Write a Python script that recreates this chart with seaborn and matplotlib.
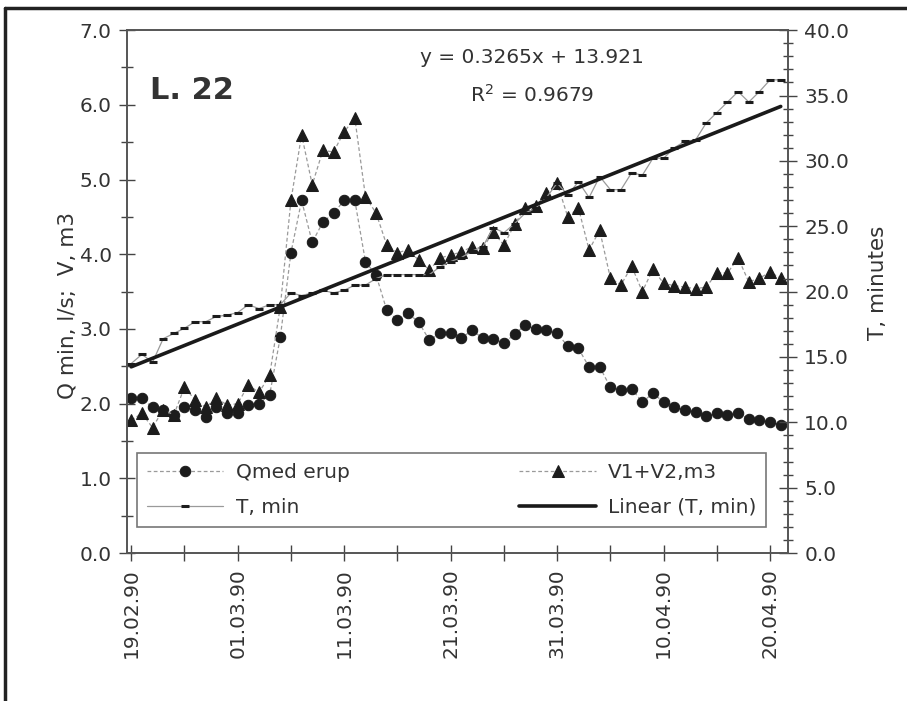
import numpy as np
import pandas as pd
import matplotlib
matplotlib.use("Agg")
import matplotlib.pyplot as plt
from matplotlib.lines import Line2D
from matplotlib.ticker import MultipleLocator, FormatStrFormatter
import seaborn as sns

# ==============================================
# Data: daily observations, well L. 22, 19.02.90 - 21.04.90
# ==============================================
dates = pd.date_range("1990-02-19", periods=62, freq="D")

# Qmed erup, l/s (left axis)
q_med = [2.07, 2.07, 1.95, 1.92, 1.85, 1.95, 1.92, 1.82, 1.95, 1.88,
         1.88, 1.98, 2.00, 2.12, 2.89, 4.02, 4.72, 4.16, 4.43, 4.55,
         4.72, 4.72, 3.90, 3.72, 3.25, 3.12, 3.21, 3.09, 2.85, 2.94,
         2.95, 2.88, 2.98, 2.88, 2.87, 2.81, 2.93, 3.05, 3.00, 2.99,
         2.94, 2.77, 2.74, 2.49, 2.49, 2.22, 2.18, 2.20, 2.02, 2.14,
         2.02, 1.96, 1.91, 1.89, 1.83, 1.87, 1.85, 1.87, 1.80, 1.78,
         1.75, 1.72]

# V1+V2, m3 (left axis)
v_sum = [1.78, 1.87, 1.68, 1.92, 1.85, 2.22, 2.05, 1.95, 2.08, 1.98,
         2.00, 2.25, 2.15, 2.38, 3.30, 4.72, 5.60, 4.93, 5.39, 5.37,
         5.64, 5.82, 4.77, 4.55, 4.12, 4.02, 4.06, 3.92, 3.79, 3.95,
         3.99, 4.03, 4.10, 4.08, 4.30, 4.12, 4.40, 4.62, 4.64, 4.82,
         4.95, 4.50, 4.62, 4.06, 4.32, 3.68, 3.59, 3.84, 3.50, 3.80,
         3.61, 3.58, 3.56, 3.54, 3.56, 3.75, 3.75, 3.95, 3.63, 3.68,
         3.76, 3.68]

# T, min (right axis)
t_min = [14.5, 15.2, 14.6, 16.4, 16.8, 17.2, 17.7, 17.7, 18.1, 18.2,
         18.4, 19.0, 18.7, 19.0, 19.0, 19.9, 19.7, 19.9, 20.1, 19.9,
         20.1, 20.5, 20.5, 21.0, 21.3, 21.3, 21.3, 21.3, 21.3, 21.9,
         22.3, 22.6, 23.1, 23.4, 24.9, 24.5, 25.2, 26.0, 26.4, 27.2,
         28.3, 27.4, 28.4, 27.2, 28.8, 27.8, 27.8, 29.1, 28.9, 30.2,
         30.2, 31.0, 31.5, 31.6, 32.9, 33.7, 34.5, 35.3, 34.5, 35.3,
         36.2, 36.2]

# Excel linear trendline of T (x = point number 1..n)
trend_slope = 0.3265
trend_intercept = 13.921
trend_r2 = 0.9679

series_names = ["Qmed erup", "V1+V2,m3", "T, min", "Linear (T, min)"]

# ==============================================
# Plot
# ==============================================
sns.set_theme(style="white")
plt.rcParams["font.family"] = ["DejaVu Sans"]
plt.rcParams["text.color"] = "#333333"
plt.rcParams["xtick.color"] = "#444444"
plt.rcParams["ytick.color"] = "#444444"
plt.rcParams["xtick.labelcolor"] = "#333333"
plt.rcParams["ytick.labelcolor"] = "#333333"

day = (dates - dates[0]).days.to_numpy()
point_no = np.arange(1, len(t_min) + 1)
t_trend = trend_slope * point_no + trend_intercept

fig = plt.figure(figsize=(9.07, 7.01), dpi=100)
ax = fig.add_axes([0.140, 0.211, 0.729, 0.746])
ax2 = ax.twinx()

link_style = dict(color="#9a9a9a", lw=0.9, linestyle=(0, (3, 2)))
dark = "#1c1c1c"

sns.lineplot(x=day, y=q_med, ax=ax, marker="o", markersize=7.5,
             markerfacecolor=dark, markeredgecolor=dark, legend=False, **link_style)
sns.lineplot(x=day, y=v_sum, ax=ax, marker="^", markersize=8.5,
             markerfacecolor=dark, markeredgecolor=dark, legend=False, **link_style)
sns.lineplot(x=day, y=t_min, ax=ax2, marker="_", markersize=6, markeredgewidth=2.2,
             markerfacecolor=dark, markeredgecolor=dark, legend=False,
             color="#9a9a9a", lw=0.9)
sns.lineplot(x=day, y=t_trend, ax=ax2, color="#1a1a1a", lw=2.6, legend=False)

# axes limits and ticks
ax.set_xlim(-0.4, 61.7)
ax.set_ylim(0, 7)
ax2.set_ylim(0, 40)

ax.set_xticks(day[::10])
ax.set_xticklabels(dates[::10].strftime("%d.%m.%y"), rotation=90)
ax.set_xticks(day[::5], minor=True)
ax.yaxis.set_major_locator(MultipleLocator(1))
ax.yaxis.set_minor_locator(MultipleLocator(0.5))
ax.yaxis.set_major_formatter(FormatStrFormatter("%.1f"))
ax2.yaxis.set_major_locator(MultipleLocator(5))
ax2.yaxis.set_minor_locator(MultipleLocator(1))
ax2.yaxis.set_major_formatter(FormatStrFormatter("%.1f"))

ax.tick_params(axis="x", which="both", direction="inout", length=12, width=1,
               pad=5, labelsize=14.5, bottom=True)
ax.tick_params(axis="y", which="major", direction="inout", length=12, width=1,
               pad=5, labelsize=14.5, left=True)
ax.tick_params(axis="y", which="minor", direction="inout", length=8, width=1, left=True)
ax2.tick_params(axis="y", which="major", direction="inout", length=13, width=1,
                pad=5, labelsize=14.5, right=True)
ax2.tick_params(axis="y", which="minor", direction="inout", length=7, width=1, right=True)

for a in (ax, ax2):
    for sp in a.spines.values():
        sp.set_color("#555555")
        sp.set_linewidth(1.2)

ax.set_xlabel("")
ax.set_ylabel("Q min, l/s;  V, m3", fontsize=15.5, color="#333333")
ax.yaxis.set_label_coords(-0.075, 0.474)
ax2.set_ylabel("T, minutes", fontsize=15.5, color="#333333")
ax2.yaxis.set_label_coords(1.121, 0.516)

# annotations
ax.text(0.035, 0.885, "L. 22", transform=ax.transAxes, fontsize=22,
        fontweight="bold", color="#333333", ha="left", va="center")
ax.text(0.613, 0.948, f"y = {trend_slope}x + {trend_intercept}",
        transform=ax.transAxes, fontsize=14.5, ha="center", va="center")
ax.text(0.613, 0.876, f"R$^2$ = {trend_r2}", transform=ax.transAxes,
        fontsize=14.5, ha="center", va="center")

# legend: two columns, row-wise order as in the original
h = ax.get_lines()[:2] + ax2.get_lines()[:2]
handles = [h[0], h[2], h[1], h[3]]
labels = [series_names[0], series_names[2], series_names[1], series_names[3]]
leg = ax2.legend(handles, labels, ncol=2, loc="lower left",
                 bbox_to_anchor=(0.015, 0.05, 0.952, 0.16), mode="expand",
                 borderaxespad=0, frameon=True, fancybox=False, fontsize=14.5,
                 handlelength=3.8, handletextpad=0.6, labelspacing=0.8,
                 borderpad=0.5, numpoints=1)
leg.get_frame().set_edgecolor("#777777")
leg.get_frame().set_linewidth(1.2)
leg.get_frame().set_alpha(1)

# outer frame of the figure (left and top edges)
fig.add_artist(Line2D([5 / 907, 5 / 907], [0, 1 - 8 / 701],
                      transform=fig.transFigure, color="#222222", lw=2.5))
fig.add_artist(Line2D([5 / 907, 1], [1 - 8 / 701, 1 - 8 / 701],
                      transform=fig.transFigure, color="#222222", lw=2.5))

fig.savefig("out.png", dpi=100, facecolor="white")
